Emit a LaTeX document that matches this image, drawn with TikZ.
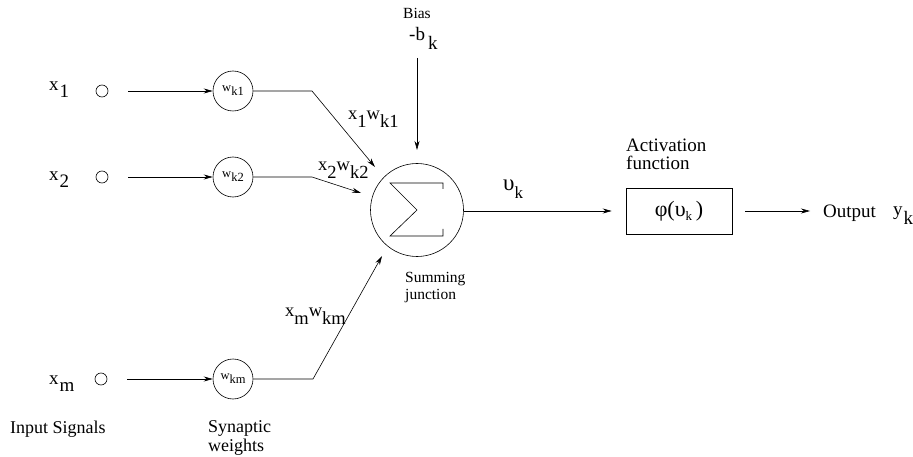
\documentclass[tikz,border=0pt]{standalone}
\usepackage{fontspec}
\setmainfont{Liberation Serif}
\usetikzlibrary{arrows.meta}
\newcommand{\lowtxt}[2][7pt]{\raisebox{-#1}{#2}}
\begin{document}
\begin{tikzpicture}[x=1pt,y=-1pt,
  lbl/.style={font=\fontsize{19}{21}\selectfont, inner sep=0pt, anchor=base west},
  captionlbl/.style={font=\fontsize{18}{20}\selectfont, inner sep=0pt, anchor=base west},
  smlbl/.style={font=\fontsize{15.5}{17}\selectfont, inner sep=0pt, anchor=base west},
  prodlbl/.style={font=\fontsize{18.5}{20}\selectfont, inner sep=0pt, anchor=base west},
  dot/.style={draw, circle, minimum size=12pt, inner sep=0pt, line width=0.6pt},
  wcirc/.style={draw, circle, minimum size=40pt, inner sep=0pt, line width=0.6pt,
                font=\fontsize{12.5}{13}\selectfont},
  wire/.style={line width=0.6pt},
  arr/.style={wire, -{Stealth[length=9pt,width=5pt]}}]
\useasboundingbox (0,0) rectangle (913,457);

% input signals
\node[lbl] (x1) at (49,91) {x\lowtxt{\kern1pt 1}};
\node[lbl] (x2) at (49,181) {x\lowtxt{\kern1pt 2}};
\node[lbl] (xm) at (49,384) {x\lowtxt{\kern1pt m}};
\node[dot] (i1) at (102,91) {};
\node[dot] (i2) at (102,177) {};
\node[dot] (im) at (101,379) {};

% synaptic weights
\node[wcirc] (w1) at (233,91) {\raisebox{-3pt}{w\lowtxt[4pt]{k1}}};
\node[wcirc] (w2) at (233,177) {\raisebox{-3pt}{w\lowtxt[4pt]{k2}}};
\node[wcirc] (wm) at (233,379) {\raisebox{-3pt}{w\lowtxt[4pt]{km}}};

\draw[arr, shorten <=20pt] (i1) -- (w1);
\draw[arr, shorten <=20pt] (i2) -- (w2);
\draw[arr, shorten <=20pt] (im) -- (wm);

% summing junction
\node[draw, circle, minimum size=93pt, inner sep=0pt, line width=0.6pt] (sum) at (417,210) {};
\draw[wire] ([shift={(26,-21)}]sum.center) -- ++(0,-6) -- ++(-53,0) -- (sum.center)
  -- ++(-27,26) -- ++(53,0) -- ++(0,-7);

\coordinate (b1) at (312,91);
\coordinate (t1) at (375,167);
\coordinate (b2) at (312,177);
\coordinate (t2) at (361,193);
\coordinate (bm) at (313,379);
\coordinate (tm) at (382,256);
\draw[arr] (w1.east) -- (b1) -- (t1);
\draw[arr] (w2.east) -- (b2) -- (t2);
\draw[arr] (wm.east) -- (bm) -- (tm);

\node[prodlbl] (p1) at (348,120) {x\lowtxt[8pt]{1}w\lowtxt[8pt]{k1}};
\node[prodlbl] (p2) at (318,171) {x\lowtxt[8pt]{2}w\lowtxt[8pt]{k2}};
\node[prodlbl] (pm) at (285,316) {x\lowtxt[8pt]{m}w\lowtxt[8pt]{km}};

% bias
\node[smlbl] (bias) at (403,19) {Bias};
\node[lbl] (bk) at (409,41) {-b\lowtxt[9pt]{\,k}};
\coordinate (bs) at (417,58);
\coordinate (bt) at (417,150);
\draw[arr] (bs) -- (bt);

\node[smlbl] (sm1) at (405,283) {Summing};
\node[smlbl] (sm2) at (405,299) {junction};

% induced field
\node[inner sep=0pt, anchor=base west, font=\fontsize{23}{25}\selectfont] (v) at (503,191)
  {υ\lowtxt[8pt]{\fontsize{17}{18}\selectfont k}};

% activation
\node[draw, minimum width=106pt, minimum height=46pt, inner sep=0pt, line width=0.6pt] (act) at (679,211)
  {\fontsize{22}{24}\selectfont φ(υ\lowtxt[4pt]{\fontsize{13}{14}\selectfont k}\,)};
\node[lbl] (af1) at (626,152) {Activation};
\node[lbl] (af2) at (626,170) {function};
\draw[arr, shorten >=14pt] (sum.east |- act.west) -- (act.west);

\coordinate (ot) at (810,211);
\draw[arr, shorten <=13pt] (act.east) -- (ot);
\node[lbl] (out) at (823,218) {Output};
\node[lbl] (yk) at (893,216) {y\lowtxt[9pt]{\kern1pt k}};

% captions
\node[captionlbl] (insig) at (10,433) {Input Signals};
\node[captionlbl] (syn1) at (208,432) {Synaptic};
\node[captionlbl] (syn2) at (208,451) {weights};
\end{tikzpicture}
\end{document}
